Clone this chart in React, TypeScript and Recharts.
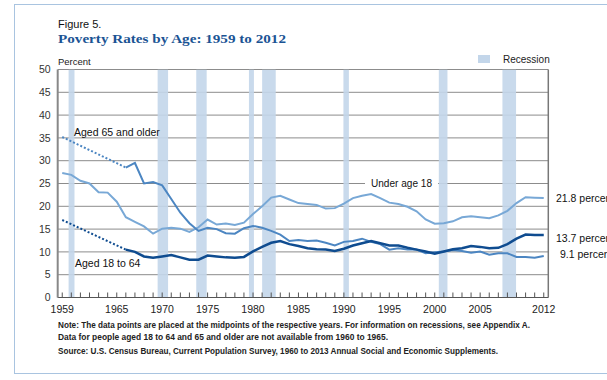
import { LineChart, Line, XAxis, YAxis, CartesianGrid, ReferenceArea, ReferenceLine } from 'recharts';

const years = [
  1959, 1960, 1961, 1962, 1963, 1964, 1965, 1966, 1967, 1968, 1969, 1970, 1971, 1972, 1973, 1974, 1975, 1976,
  1977, 1978, 1979, 1980, 1981, 1982, 1983, 1984, 1985, 1986, 1987, 1988, 1989, 1990, 1991, 1992, 1993, 1994,
  1995, 1996, 1997, 1998, 1999, 2000, 2001, 2002, 2003, 2004, 2005, 2006, 2007, 2008, 2009, 2010, 2011, 2012,
];

const under18 = [
  27.3, 26.9, 25.6, 25.0, 23.1, 23.0, 21.0, 17.6, 16.6, 15.6, 14.0, 15.1, 15.3, 15.1, 14.4, 15.4, 17.1, 16.0,
  16.2, 15.9, 16.4, 18.3, 20.0, 21.9, 22.3, 21.5, 20.7, 20.5, 20.3, 19.5, 19.6, 20.6, 21.8, 22.3, 22.7, 21.8,
  20.8, 20.5, 19.9, 18.9, 17.1, 16.2, 16.3, 16.7, 17.6, 17.8, 17.6, 17.4, 18.0, 19.0, 20.7, 22.0, 21.9, 21.8,
];

const aged65 = [
  35.2, null, null, null, null, null, null, 28.5, 29.5, 25.0, 25.3, 24.6, 21.6, 18.6, 16.3, 14.6, 15.3, 15.0,
  14.1, 14.0, 15.2, 15.7, 15.3, 14.6, 13.8, 12.4, 12.6, 12.4, 12.5, 12.0, 11.4, 12.2, 12.4, 12.9, 12.2, 11.7,
  10.5, 10.8, 10.5, 10.5, 9.7, 9.9, 10.1, 10.4, 10.2, 9.8, 10.1, 9.4, 9.7, 9.7, 8.9, 8.9, 8.7, 9.1,
];

const aged18to64 = [
  17.0, null, null, null, null, null, null, 10.5, 10.0, 9.0, 8.7, 9.0, 9.3, 8.8, 8.3, 8.3, 9.2, 9.0,
  8.8, 8.7, 8.9, 10.1, 11.1, 12.0, 12.4, 11.7, 11.3, 10.8, 10.6, 10.5, 10.2, 10.7, 11.4, 11.9, 12.4, 11.9,
  11.4, 11.4, 10.9, 10.5, 10.1, 9.6, 10.1, 10.6, 10.8, 11.3, 11.1, 10.8, 10.9, 11.7, 12.9, 13.8, 13.7, 13.7,
];

// recession periods, in calendar years
const recessions = [
  [1960.2, 1960.85],
  [1970.0, 1971.15],
  [1974.25, 1975.4],
  [1980.05, 1980.6],
  [1981.5, 1983.0],
  [1990.45, 1991.05],
  [2000.95, 2001.9],
  [2007.95, 2009.45],
];

const yTicks = [0, 5, 10, 15, 20, 25, 30, 35, 40, 45, 50];
const labeledYears = [1959, 1965, 1970, 1975, 1980, 1985, 1990, 1995, 2000, 2005, 2012];

const gapYears = [1959, 1966];

// points sit at the middle of each year
const data = years.map((yr, i) => ({
  x: yr + 0.5,
  under18: under18[i],
  a65: yr >= 1966 ? aged65[i] : null,
  a65gap: gapYears.includes(yr) ? aged65[i] : null,
  a1864: yr >= 1966 ? aged18to64[i] : null,
  a1864gap: gapYears.includes(yr) ? aged18to64[i] : null,
}));

const xTicks = years.map((yr) => yr + 0.5);

const SANS = '"Liberation Sans", Arial, sans-serif';
const LIGHT = '#78a8d6';
const MID = '#4c86c2';
const DARK = '#0f4c90';
const RECESSION = '#c3d6ea';

function YearTick(props: any) {
  const { x, y, payload } = props;
  const yr = Math.floor(payload.value);
  const show = labeledYears.includes(yr);
  return (
    <g>
      <line x1={x} x2={x} y1={y} y2={y - 5} stroke="#555" strokeWidth={1} />
      {show && (
        <text x={x} y={y + 15} textAnchor="middle" fontSize={10.5} fill="#222" fontFamily={SANS}>
          {yr}
        </text>
      )}
    </g>
  );
}

export default function App() {
  return (
    <div style={{ position: 'absolute', left: 0, top: 0, width: 607, height: 380, overflow: 'hidden', background: '#fff' }}>
      <div
        style={{
          position: 'absolute',
          left: 14,
          top: 4,
          width: 640,
          height: 368,
          border: '1px solid #a9c4e0',
        }}
      />
      <div style={{ position: 'absolute', left: 0, top: 0 }}>
        <LineChart
          width={607}
          height={380}
          data={data}
          margin={{ top: 69.5, right: 58.7, bottom: 52.5, left: 17.7 }}
        >
          <CartesianGrid vertical={false} stroke="#8c8c8c" strokeWidth={1} />
          {recessions.map(([a, b], i) => (
            <ReferenceArea key={i} x1={a} x2={b} y1={0} y2={50} fill={RECESSION} fillOpacity={0.9} stroke="none" ifOverflow="hidden" />
          ))}
          <ReferenceLine x={2013} stroke="#777" strokeWidth={1.5} />
          <XAxis
            type="number"
            dataKey="x"
            domain={[1959, 2013]}
            ticks={xTicks}
            interval={0}
            tickSize={0}
            tickMargin={0}
            tick={<YearTick />}
            axisLine={{ stroke: '#555' }}
            height={30}
            allowDataOverflow
          />
          <YAxis
            type="number"
            domain={[0, 50]}
            ticks={yTicks}
            interval={0}
            width={40}
            tickSize={0}
            tickMargin={7}
            tickLine={false}
            axisLine={{ stroke: '#888', strokeWidth: 2 }}
            tick={{ fontSize: 10.5, fill: '#333', fontFamily: SANS }}
          />
          <Line type="linear" dataKey="a65gap" stroke={MID} strokeWidth={2} strokeDasharray="2 2" dot={false} connectNulls isAnimationActive={false} />
          <Line type="linear" dataKey="a1864gap" stroke={DARK} strokeWidth={2} strokeDasharray="2 2" dot={false} connectNulls isAnimationActive={false} />
          <Line type="linear" dataKey="under18" stroke={LIGHT} strokeWidth={2} dot={false} isAnimationActive={false} />
          <Line type="linear" dataKey="a65" stroke={MID} strokeWidth={2} dot={false} isAnimationActive={false} />
          <Line type="linear" dataKey="a1864" stroke={DARK} strokeWidth={2.5} dot={false} isAnimationActive={false} />
        </LineChart>
      </div>
      <svg width={607} height={380} style={{ position: 'absolute', left: 0, top: 0, pointerEvents: 'none' }}>
        <text x={58} y={28} fontSize={11} fill="#111" fontFamily={SANS}>Figure 5.</text>
        <text x={58} y={43} fontSize={13} fontWeight="bold" fill="#1b5494" fontFamily='"Liberation Serif", serif' textLength={228} lengthAdjust="spacingAndGlyphs">
          Poverty Rates by Age: 1959 to 2012
        </text>
        <text x={58} y={65} fontSize={9.5} fill="#222" fontFamily={SANS}>Percent</text>

        <rect x={478} y={55} width={12} height={8} fill={RECESSION} />
        <text x={503} y={62.5} fontSize={10} fill="#222" fontFamily={SANS}>Recession</text>

        <text x={74} y={135.5} fontSize={10.5} fill="#111" fontFamily={SANS}>Aged 65 and older</text>
        <rect x={365} y={176} width={73} height={14} fill="#fff" />
        <text x={401.5} y={186.5} textAnchor="middle" fontSize={10.5} fill="#111" fontFamily={SANS} textLength={61} lengthAdjust="spacingAndGlyphs">Under age 18</text>
        <text x={75} y={266.5} fontSize={10.5} fill="#111" fontFamily={SANS}>Aged 18 to 64</text>

        <text x={556} y={202} fontSize={10.5} fill="#111" fontFamily={SANS}>21.8 percent</text>
        <text x={556} y={241.5} fontSize={10.5} fill="#111" fontFamily={SANS}>13.7 percent</text>
        <text x={560} y={258} fontSize={10.5} fill="#111" fontFamily={SANS}>9.1 percent</text>

        <text x={58} y={328} fontSize={8.5} fontWeight="bold" fill="#222" fontFamily={SANS} textLength={472} lengthAdjust="spacingAndGlyphs">
          Note: The data points are placed at the midpoints of the respective years. For information on recessions, see Appendix A.
        </text>
        <text x={58} y={340} fontSize={8.5} fontWeight="bold" fill="#222" fontFamily={SANS} textLength={330} lengthAdjust="spacingAndGlyphs">
          Data for people aged 18 to 64 and 65 and older are not available from 1960 to 1965.
        </text>
        <text x={58} y={354} fontSize={8.5} fontWeight="bold" fill="#222" fontFamily={SANS} textLength={440} lengthAdjust="spacingAndGlyphs">
          Source: U.S. Census Bureau, Current Population Survey, 1960 to 2013 Annual Social and Economic Supplements.
        </text>
      </svg>
    </div>
  );
}
